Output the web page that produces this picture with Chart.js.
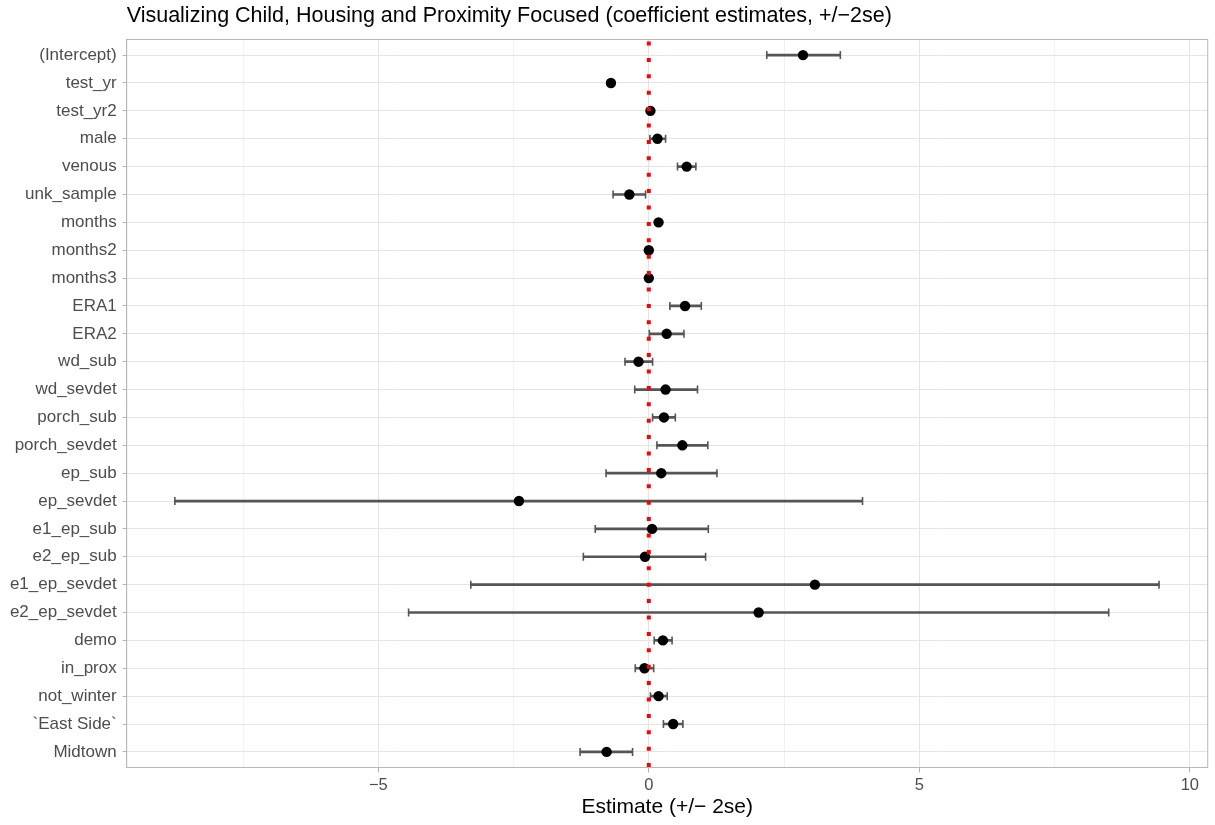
<!DOCTYPE html>
<html>
<head>
<meta charset="utf-8">
<script src="https://cdn.jsdelivr.net/npm/chart.js@4"></script>
<style>
  html, body { margin: 0; padding: 0; background: #fff; }
</style>
</head>
<body>
<canvas id="coefChart" width="1215" height="825"></canvas>
<script>
// Coefficient estimates +/- 2se
const terms = ['(Intercept)', 'test_yr', 'test_yr2', 'male', 'venous', 'unk_sample', 'months', 'months2', 'months3',
  'ERA1', 'ERA2', 'wd_sub', 'wd_sevdet', 'porch_sub', 'porch_sevdet', 'ep_sub', 'ep_sevdet', 'e1_ep_sub', 'e2_ep_sub',
  'e1_ep_sevdet', 'e2_ep_sevdet', 'demo', 'in_prox', 'not_winter', '`East Side`', 'Midtown'];
const estimates = [2.85, -0.70, 0.03, 0.16, 0.70, -0.36, 0.18, 0.00, 0.00,
  0.67, 0.33, -0.19, 0.31, 0.28, 0.62, 0.23, -2.40, 0.06, -0.07,
  3.07, 2.03, 0.26, -0.08, 0.18, 0.45, -0.78];
const lower = [2.18, -0.74, 0.01, 0.02, 0.53, -0.66, 0.15, -0.02, -0.02,
  0.39, 0.01, -0.44, -0.26, 0.07, 0.15, -0.79, -8.76, -0.99, -1.21,
  -3.29, -4.44, 0.10, -0.25, 0.03, 0.27, -1.27];
const upper = [3.54, -0.66, 0.05, 0.31, 0.87, -0.06, 0.21, 0.02, 0.02,
  0.97, 0.65, 0.07, 0.90, 0.49, 1.09, 1.26, 3.95, 1.10, 1.05,
  9.43, 8.50, 0.43, 0.09, 0.34, 0.63, -0.30];
const xTicks = [-7.5, -5, -2.5, 0, 2.5, 5, 7.5, 10];
const xLabelTicks = [-5, 0, 5, 10];

const FONT = "'Liberation Sans', Arial, Helvetica, sans-serif";
const isMajor = v => xLabelTicks.includes(v);
const rows = arr => arr.map((v, i) => ({ x: v, y: i }));

// red dotted zero line + grey panel border
const refLines = {
  id: 'refLines',
  afterDatasetsDraw(chart) {
    const { ctx, chartArea: a, scales: { x } } = chart;
    const x0 = x.getPixelForValue(0);
    ctx.save();
    ctx.strokeStyle = '#ff0000';
    ctx.lineWidth = 4;
    ctx.setLineDash([4, 12.4]);
    ctx.beginPath();
    ctx.moveTo(x0, a.top + 2);
    ctx.lineTo(x0, a.bottom);
    ctx.stroke();
    ctx.setLineDash([]);
    ctx.strokeStyle = '#b8b8b8';
    ctx.lineWidth = 1;
    ctx.strokeRect(a.left, a.top, a.width, a.height);
    ctx.restore();
  }
};

new Chart(document.getElementById('coefChart'), {
  type: 'bar',
  data: {
    datasets: [
      {
        label: 'estimate',
        type: 'line',
        data: rows(estimates),
        showLine: false,
        pointRadius: 5.2,
        pointBackgroundColor: '#000',
        pointBorderWidth: 0,
        order: 0
      },
      {
        label: 'lower cap',
        type: 'line',
        data: rows(lower),
        showLine: false,
        pointStyle: 'line',
        rotation: 90,
        pointRadius: 4,
        pointBorderColor: '#555',
        pointBorderWidth: 1.6,
        order: 1
      },
      {
        label: 'upper cap',
        type: 'line',
        data: rows(upper),
        showLine: false,
        pointStyle: 'line',
        rotation: 90,
        pointRadius: 4,
        pointBorderColor: '#555',
        pointBorderWidth: 1.6,
        order: 1
      },
      {
        label: '+/- 2se',
        data: lower.map((lo, i) => ({ x: [lo, upper[i]], y: i })),
        backgroundColor: '#555',
        barThickness: 2,
        order: 2
      }
    ]
  },
  options: {
    indexAxis: 'y',
    responsive: false,
    animation: false,
    events: [],
    layout: { padding: { left: 0, right: 7.3, top: 0, bottom: 0 } },
    plugins: {
      legend: { display: false },
      tooltip: { enabled: false },
      title: {
        display: true,
        text: 'Visualizing Child, Housing and Proximity Focused (coefficient estimates, +/\u22122se)',
        align: 'start',
        fullSize: false,
        color: '#000',
        font: { family: FONT, size: 21.5, weight: 'normal' },
        padding: { top: 3, bottom: 10.7 }
      }
    },
    scales: {
      x: {
        type: 'linear',
        min: -9.65,
        max: 10.33,
        afterBuildTicks: s => { s.ticks = xTicks.map(v => ({ value: v })); },
        afterFit: s => { s.height = 57.5; },
        ticks: {
          autoSkip: false,
          maxRotation: 0,
          padding: 3,
          color: '#4d4d4d',
          font: { family: FONT, size: 16.5 },
          callback: v => isMajor(v) ? String(v).replace('-', '\u2212') : ''
        },
        grid: {
          color: c => isMajor(c.tick.value) ? '#e4e4e4' : '#eeeeee',
          lineWidth: c => isMajor(c.tick.value) ? 1 : 0.8,
          tickColor: c => isMajor(c.tick.value) ? '#b3b3b3' : 'rgba(0,0,0,0)',
          tickLength: 5
        },
        border: { display: true, color: '#b8b8b8' },
        title: {
          display: true,
          text: 'Estimate (+/\u2212 2se)',
          color: '#000',
          font: { family: FONT, size: 21 },
          padding: { top: 2, bottom: 5.5 }
        }
      },
      y: {
        type: 'linear',
        reverse: true,
        offset: false,
        min: -0.56,
        max: terms.length - 0.44,
        afterBuildTicks: s => { s.ticks = terms.map((t, i) => ({ value: i })); },
        afterFit: s => { s.width = 126.7; },
        ticks: {
          autoSkip: false,
          padding: 6,
          color: '#4d4d4d',
          font: { family: FONT, size: 17 },
          callback: v => terms[v]
        },
        grid: {
          offset: false,
          color: '#e4e4e4',
          tickColor: '#b3b3b3',
          tickLength: 4
        },
        border: { display: true, color: '#b8b8b8' }
      }
    }
  },
  plugins: [refLines]
});
</script>
</body>
</html>
